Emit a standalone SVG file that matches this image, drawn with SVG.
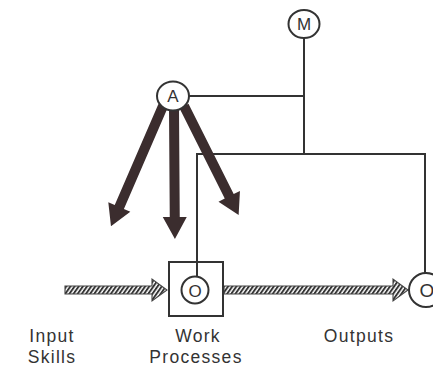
<svg xmlns="http://www.w3.org/2000/svg" width="433" height="366" viewBox="0 0 433 366">
<defs>
<style>
.ln{fill:none;stroke:#333;stroke-width:2}
.nd{fill:#fff;stroke:#333;stroke-width:2}
.big{fill:#3b2d2e;stroke:none}
.hat{fill:url(#hatch);stroke:#444;stroke-width:1.1}
.lt{font-family:"Liberation Sans",Arial,sans-serif;font-size:17.5px;letter-spacing:1.3px;fill:#333;text-anchor:middle}
.ct{font-family:"Liberation Sans",Arial,sans-serif;font-size:17px;fill:#333;text-anchor:middle}
</style>
<pattern id="hatch" width="3.4" height="10" patternUnits="userSpaceOnUse" patternTransform="rotate(35)">
<rect width="3.4" height="10" fill="#fff"/>
<line x1="1" y1="0" x2="1" y2="10" stroke="#2e2e2e" stroke-width="1.9"/>
</pattern>
</defs>
<rect width="433" height="366" fill="#fff"/>
<g id="connectors">
<polyline class="ln" points="189,96 304,96"/>
<polyline class="ln" points="304,38 304,154"/>
<polyline class="ln" points="197,277 197,154 425,154 425,273"/>
<g id="influence-arrows">
<polygon class="big" transform="translate(163,106) rotate(23.4)" points="-5,0 5,0 5,110 12,110 0,131 -12,110 -5,110"/>
<polygon class="big" transform="translate(174,108) rotate(-0.4)" points="-5,0 5,0 5,109 12,109 0,131 -12,109 -5,109"/>
<polygon class="big" transform="translate(184,106) rotate(-26.6)" points="-5,0 5,0 5,101 12,101 0,122 -12,101 -5,101"/>
</g>
<polygon class="hat" points="65,286 152,286 152,279 167,290 152,301 152,294 65,294"/>
<polygon class="hat" points="224,286 393,286 393,279 408,290 393,301 393,294 224,294"/>
</g>
<g id="node-M">
<ellipse class="nd" cx="304" cy="24" rx="15.5" ry="14"/>
<text class="ct" x="304" y="30">M</text>
</g>
<g id="node-A">
<ellipse class="nd" cx="173" cy="96" rx="16" ry="14.5"/>
<text class="ct" x="173" y="102">A</text>
</g>
<g id="node-work">
<rect class="nd" x="169" y="262" width="54" height="54"/>
<circle class="nd" cx="195" cy="290" r="13.5"/>
<line class="ln" x1="197" y1="262" x2="197" y2="277"/>
<text class="ct" x="195" y="296.5" font-size="18">O</text>
</g>
<g id="node-output">
<circle class="nd" cx="426" cy="290" r="17"/>
<text class="ct" x="427" y="297" style="font-size:19px">O</text>
</g>
<g id="labels">
<text class="lt" x="52" y="342">Input</text>
<text class="lt" x="52" y="363">Skills</text>
<text class="lt" x="198" y="342">Work</text>
<text class="lt" x="196" y="363">Processes</text>
<text class="lt" x="359" y="342">Outputs</text>
</g>
</svg>
